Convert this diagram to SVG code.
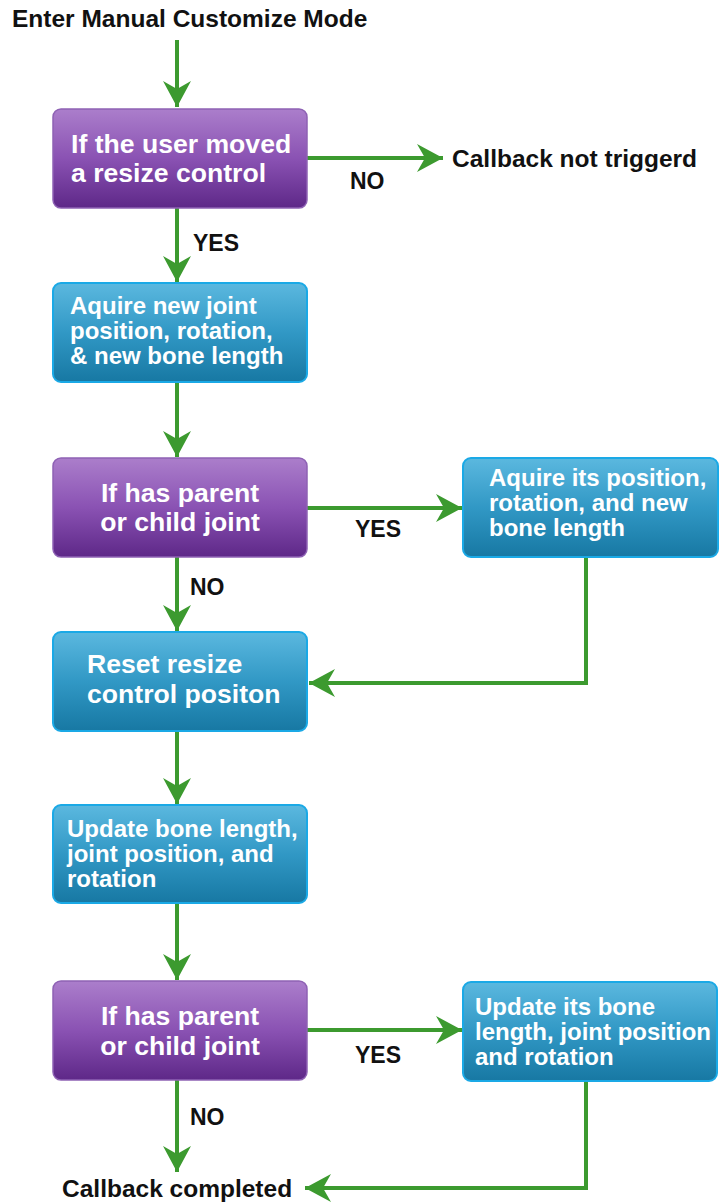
<svg xmlns="http://www.w3.org/2000/svg" width="719" height="1203" viewBox="0 0 719 1203">
  <style>
    .lbl { font-family: "Liberation Sans", Arial, sans-serif; font-weight: bold; font-size: 24.5px; fill: #111; }
    .yn { font-family: "Liberation Sans", Arial, sans-serif; font-weight: bold; font-size: 23px; fill: #111; }
    .big { font-family: "Liberation Sans", Arial, sans-serif; font-weight: bold; font-size: 26.6px; fill: #fff; }
    .mid { font-family: "Liberation Sans", Arial, sans-serif; font-weight: bold; font-size: 24px; fill: #fff; }
    .dec { fill: url(#gPurple); stroke: #8e62b4; stroke-width: 1.5; }
    .act { fill: url(#gBlue); stroke: #1aa9e6; stroke-width: 2; }
    .wire { fill: none; stroke: #3c9a2f; stroke-width: 4; }
  </style>
  <defs>
    <linearGradient id="gPurple" x1="0" y1="0" x2="0" y2="1">
      <stop offset="0" stop-color="#ab7ecb"/>
      <stop offset="0.5" stop-color="#8a52b3"/>
      <stop offset="1" stop-color="#5e2888"/>
    </linearGradient>
    <linearGradient id="gBlue" x1="0" y1="0" x2="0" y2="1">
      <stop offset="0" stop-color="#5bb8df"/>
      <stop offset="0.5" stop-color="#3198c5"/>
      <stop offset="1" stop-color="#1778a3"/>
    </linearGradient>
    <marker id="head" markerUnits="userSpaceOnUse" markerWidth="28" markerHeight="30" viewBox="0 0 28 30" refX="26" refY="15" orient="auto">
      <path d="M0,1 L26,15 L0,29 L8,15 Z" fill="#3c9a2f"/>
    </marker>
  </defs>

  <!-- connectors -->
  <g id="connectors">
    <path class="wire" d="M177,40 V107" marker-end="url(#head)"/>
    <path class="wire" d="M307,158 H443" marker-end="url(#head)"/>
    <path class="wire" d="M177,208 V282" marker-end="url(#head)"/>
    <path class="wire" d="M177,382 V457" marker-end="url(#head)"/>
    <path class="wire" d="M307,508 H462" marker-end="url(#head)"/>
    <path class="wire" d="M177,557 V631" marker-end="url(#head)"/>
    <path class="wire" d="M586,558 V683 H309" marker-end="url(#head)"/>
    <path class="wire" d="M177,731 V804" marker-end="url(#head)"/>
    <path class="wire" d="M177,903 V980" marker-end="url(#head)"/>
    <path class="wire" d="M307,1030 H462" marker-end="url(#head)"/>
    <path class="wire" d="M177,1080 V1172" marker-end="url(#head)"/>
    <path class="wire" d="M586,1081 V1188 H305" marker-end="url(#head)"/>
    <text class="yn" x="350" y="189">NO</text>
    <text class="yn" x="193" y="251">YES</text>
    <text class="yn" x="355" y="537">YES</text>
    <text class="yn" x="190" y="595">NO</text>
    <text class="yn" x="355" y="1063">YES</text>
    <text class="yn" x="190" y="1125">NO</text>
  </g>

  <g id="start">
    <text class="lbl" x="12" y="27">Enter Manual Customize Mode</text>
  </g>

  <g id="not-triggered">
    <text class="lbl" x="452" y="167">Callback not triggerd</text>
  </g>

  <g id="moved-control">
    <rect class="dec" x="53" y="109" width="254" height="99" rx="8"/>
    <text class="big" x="71" y="153">If the user moved</text>
    <text class="big" x="71" y="182">a resize control</text>
  </g>

  <g id="acquire-joint">
    <rect class="act" x="53" y="283" width="254" height="99" rx="8"/>
    <text class="mid" x="70" y="314">Aquire new joint</text>
    <text class="mid" x="70" y="339">position, rotation,</text>
    <text class="mid" x="70" y="364">&amp; new bone length</text>
  </g>

  <g id="has-relative-1">
    <rect class="dec" x="53" y="458" width="254" height="99" rx="8"/>
    <text class="big" x="180" y="502" text-anchor="middle">If has parent</text>
    <text class="big" x="180" y="531" text-anchor="middle">or child joint</text>
  </g>

  <g id="acquire-relative">
    <rect class="act" x="463" y="458" width="255" height="99" rx="8"/>
    <text class="mid" x="489" y="486">Aquire its position,</text>
    <text class="mid" x="489" y="511">rotation, and new</text>
    <text class="mid" x="489" y="536">bone length</text>
  </g>

  <g id="reset-control">
    <rect class="act" x="53" y="632" width="254" height="99" rx="8"/>
    <text class="big" x="87" y="673">Reset resize</text>
    <text class="big" x="87" y="703">control positon</text>
  </g>

  <g id="update-joint">
    <rect class="act" x="53" y="805" width="254" height="98" rx="8"/>
    <text class="mid" x="67" y="837">Update bone length,</text>
    <text class="mid" x="67" y="862">joint position, and</text>
    <text class="mid" x="67" y="887">rotation</text>
  </g>

  <g id="has-relative-2">
    <rect class="dec" x="53" y="981" width="254" height="99" rx="8"/>
    <text class="big" x="180" y="1025" text-anchor="middle">If has parent</text>
    <text class="big" x="180" y="1055" text-anchor="middle">or child joint</text>
  </g>

  <g id="update-relative">
    <rect class="act" x="463" y="982" width="254" height="99" rx="8"/>
    <text class="mid" x="475" y="1015">Update its bone</text>
    <text class="mid" x="475" y="1040">length, joint position</text>
    <text class="mid" x="475" y="1065">and rotation</text>
  </g>

  <g id="completed">
    <text class="lbl" x="62" y="1197">Callback completed</text>
  </g>
</svg>
